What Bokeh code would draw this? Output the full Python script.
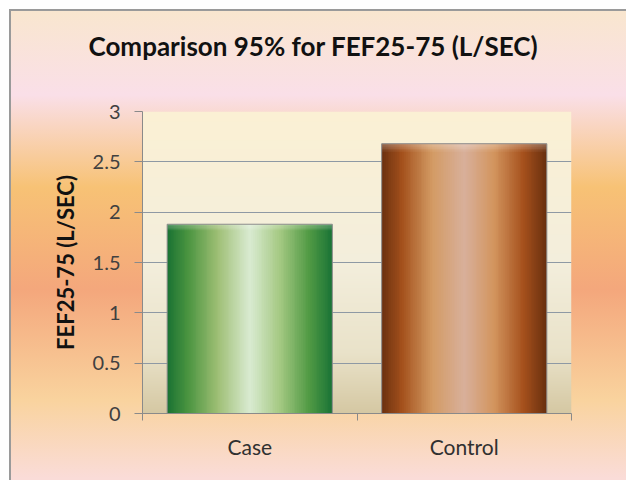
import numpy as np
from bokeh.plotting import figure
from bokeh.models import FixedTicker, NumeralTickFormatter, CustomJSTickFormatter, Range1d, Title
from bokeh.embed import file_html
from bokeh.resources import INLINE

# ---- data ----
categories = ["Case", "Control"]
values = [1.88, 2.68]
y_ticks = [0, 0.5, 1, 1.5, 2, 2.5, 3]
title_text = "Comparison 95% for FEF25-75 (L/SEC)"
y_label = "FEF25-75 (L/SEC)"

# ---- style helpers ----
def hex2rgb(h):
    h = h.lstrip("#")
    return [int(h[i:i + 2], 16) for i in (0, 2, 4)]

def ramp(stops, n):
    pos = [s[0] for s in stops]
    cols = np.array([hex2rgb(s[1]) for s in stops], float)
    t = np.linspace(0, 1, n)
    return np.stack([np.interp(t, pos, cols[:, k]) for k in range(3)], axis=1)

def rgba_image(rgb):
    h, w, _ = rgb.shape
    img = np.empty((h, w), dtype=np.uint32)
    view = img.view(dtype=np.uint8).reshape((h, w, 4))
    view[..., :3] = np.clip(rgb.round(), 0, 255).astype(np.uint8)
    view[..., 3] = 255
    return img

BAR_STOPS = [
    [(0.0, "#1C7434"), (0.12, "#4A9440"), (0.3, "#9DBE73"), (0.5, "#DAEBD2"),
     (0.68, "#A6CA84"), (0.86, "#529B45"), (1.0, "#1B7436")],
    [(0.0, "#6E3210"), (0.12, "#A4511C"), (0.3, "#D39A63"), (0.5, "#D8B09B"),
     (0.68, "#D3955E"), (0.86, "#A6511D"), (1.0, "#6A300F")],
]
PLOT_STOPS = [(0.0, "#D5C8A3"), (0.2, "#E9E2C9"), (0.5, "#F3EEDC"), (1.0, "#FBF0D4")]
BAR_WIDTH = 0.77
GRID = "#8E99A4"
AXIS = "#8A8A8A"
FONT = "Lato"

centers = [i + 0.5 for i in range(len(categories))]

p = figure(width=626, height=480, title=None,
           x_range=Range1d(0, len(categories)), y_range=Range1d(y_ticks[0], y_ticks[-1]),
           output_backend="svg", toolbar_location=None,
           min_border_left=142, min_border_right=55, min_border_top=111, min_border_bottom=67)
p.background_fill_alpha = 0
p.border_fill_alpha = 0
p.outline_line_color = None
p.styles = {
    "background": "linear-gradient(to bottom, #F9E6CF 2.5%, #FADFE8 19.8%, #F7C275 39%, "
                  "#F4A77C 60.4%, #F9D39E 83.3%, #FADCD8 99.6%)",
    "box-shadow": "inset 9px 9px 0 0 #ffffff, inset 11px 11px 0 0 #9A9A9A",
}

# plot-area gradient (below grid)
bg = ramp(PLOT_STOPS, 302).reshape(302, 1, 3)
r_bg = p.image_rgba(image=[rgba_image(bg)], x=0, y=y_ticks[0], dw=len(categories),
                    dh=y_ticks[-1] - y_ticks[0])
r_bg.level = "image"

# bars with horizontal shading
for c, v, stops in zip(centers, values, BAR_STOPS):
    cols = 90
    rows = 150
    prof = ramp(stops, cols)
    img = np.repeat(prof[None, :, :], rows, axis=0)
    band = 5
    for k in range(band):
        a = 0.3 * (1 - k / band)
        img[rows - 1 - k] = img[rows - 1 - k] * (1 - a) + 255 * a
    p.image_rgba(image=[rgba_image(img)], x=c - BAR_WIDTH / 2, y=0, dw=BAR_WIDTH, dh=v)

p.vbar(x=centers, top=values, width=BAR_WIDTH, fill_alpha=0, line_color="#8C8C8C", line_width=1)

# grid
p.xgrid.visible = False
p.ygrid.ticker = FixedTicker(ticks=y_ticks)
p.ygrid.grid_line_color = GRID
p.ygrid.grid_line_width = 1

# y axis
ya = p.yaxis[0]
ya.ticker = FixedTicker(ticks=y_ticks)
ya.formatter = NumeralTickFormatter(format="0.[0]")
ya.major_tick_in = 0
ya.major_tick_out = 8
ya.minor_tick_line_color = None
ya.axis_line_color = AXIS
ya.major_tick_line_color = AXIS
ya.major_label_text_font = FONT
ya.major_label_text_font_size = "20px"
ya.major_label_text_color = "#404040"
ya.major_label_standoff = 14
ya.axis_label = y_label
ya.axis_label_text_font = FONT
ya.axis_label_text_font_style = "bold"
ya.axis_label_text_font_size = "22px"
ya.axis_label_text_color = "#111111"
ya.axis_label_standoff = 11

# x axis: labels at category centres, tick marks between categories
xa = p.xaxis[0]
xa.ticker = FixedTicker(ticks=centers, minor_ticks=list(range(len(categories) + 1)))
xa.formatter = CustomJSTickFormatter(args=dict(labels=categories),
                                     code="return labels[Math.floor(tick)];")
xa.major_tick_line_color = None
xa.major_tick_in = 0
xa.major_tick_out = 0
xa.minor_tick_in = 0
xa.minor_tick_out = 7
xa.minor_tick_line_color = AXIS
xa.axis_line_color = AXIS
xa.major_label_text_font = FONT
xa.major_label_text_font_size = "21px"
xa.major_label_text_color = "#303030"
xa.major_label_standoff = 13

# title: a thin spacer panel next to the frame, the title itself above it
p.add_layout(Title(text=" ", text_font_size="1px", standoff=47), "above")
p.add_layout(Title(text=title_text, align="left", offset=-54, standoff=0,
                   text_font=FONT, text_font_style="bold", text_font_size="26px",
                   text_color="#111111"), "above")

open("out.html", "w").write(file_html(p, INLINE))
